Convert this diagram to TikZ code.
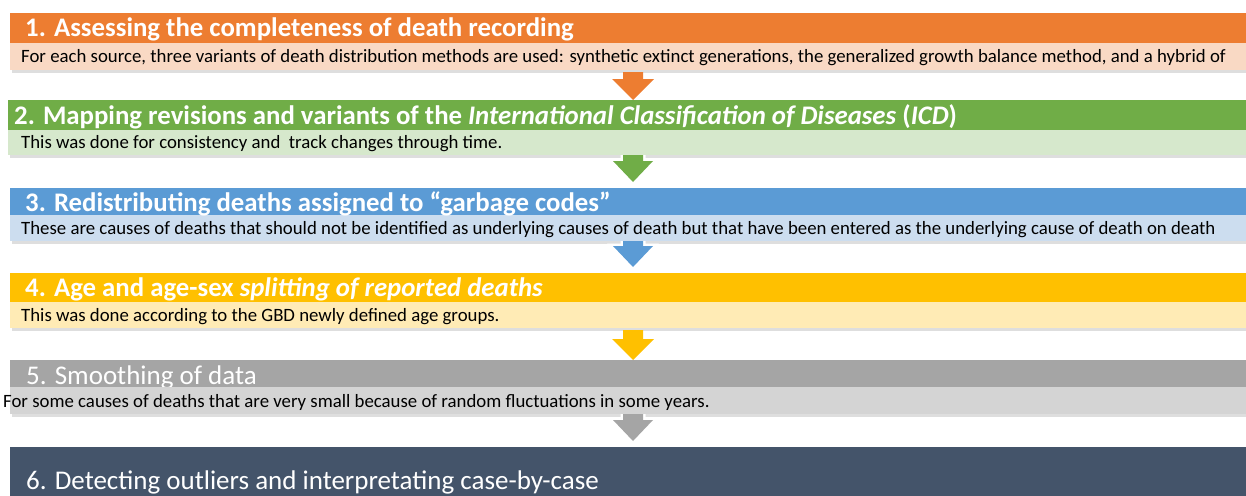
\documentclass[tikz,border=0pt]{standalone}
\usepackage{fontspec}
\setmainfont{Carlito}
\usetikzlibrary{calc}
\definecolor{cOr}{HTML}{ED7D31}\definecolor{cOrL}{HTML}{F9D9C4}
\definecolor{cGr}{HTML}{70AD47}\definecolor{cGrL}{HTML}{D6E8CC}
\definecolor{cBl}{HTML}{5B9BD5}\definecolor{cBlL}{HTML}{CCDDEF}
\definecolor{cYe}{HTML}{FFC000}\definecolor{cYeL}{HTML}{FFEBB5}
\definecolor{cGy}{HTML}{A5A5A5}\definecolor{cGyL}{HTML}{D4D4D4}
\definecolor{cDk}{HTML}{44546A}
\newcommand\solidarr[3]{% top node, bottom node, colour
  \fill[#3] ($(ax |- #1.south)+(-10,2)$) -- ($(ax |- #2.north)+(-10,-21)$) -- ($(ax |- #2.north)+(-21,-21)$)
   -- (ax |- #2.north) -- ($(ax |- #2.north)+(21,-21)$) -- ($(ax |- #2.north)+(10,-21)$) -- ($(ax |- #1.south)+(10,2)$) -- cycle;}
\newcommand\outlinearr[3]{% top node, bottom node, colour
  \path[draw=white, line width=5pt, line join=miter, postaction={fill=#3}] ($(ax |- #1.south)+(-10,0)$) -- ($(ax |- #2.north)+(-10,-27)$) -- ($(ax |- #2.north)+(-20,-27)$)
   -- ($(ax |- #2.north)+(0,-6)$) -- ($(ax |- #2.north)+(20,-27)$) -- ($(ax |- #2.north)+(10,-27)$) -- ($(ax |- #1.south)+(10,0)$) -- cycle;}
\begin{document}
\begin{tikzpicture}[x=1pt,y=-1pt,
  box/.style={anchor=north west, inner sep=0, outer sep=0, minimum width=1240pt},
  htext/.style={anchor=base west, inner sep=0, text=white, font=\fontsize{26.8}{30}\selectfont\bfseries},
  htextr/.style={anchor=base west, inner sep=0, text=white, font=\fontsize{27}{30}\selectfont},
  stext/.style={anchor=base west, inner sep=0, text=black, font=\fontsize{18.8}{21}\selectfont},
  shadow/.style={fill=black, opacity=0.13}]
\useasboundingbox (0,0) rectangle (1246,495);
\coordinate (ax) at (633,0);
% shadows
\fill[shadow] (12,16) rectangle (1250,73);
\fill[shadow] (10,103) rectangle (1250,158);
\fill[shadow] (12,191) rectangle (1250,244);
\fill[shadow] (12,276) rectangle (1250,331);
\fill[shadow] (12,363) rectangle (1250,417);
% row 1
\node[box, fill=cOr, minimum height=30pt] (h1) at (10,13) {};
\node[box, fill=cOrL, minimum height=27pt] (s1) at (10,43) {};
% row 2
\node[box, fill=cGr, minimum height=30pt] (h2) at (8,100) {};
\node[box, fill=cGrL, minimum height=25pt] (s2) at (8,130) {};
% row 3
\node[box, fill=cBl, minimum height=27pt] (h3) at (10,188) {};
\node[box, fill=cBlL, minimum height=26pt] (s3) at (10,215) {};
% row 4
\node[box, fill=cYe, minimum height=29pt] (h4) at (10,273) {};
\node[box, fill=cYeL, minimum height=26pt] (s4) at (10,302) {};
% row 5
\node[box, fill=cGy, minimum height=27pt] (h5) at (10,360) {};
\node[box, fill=cGyL, minimum height=27pt] (s5) at (10,387) {};
% row 6
\node[box, fill=cDk, minimum height=60pt] (h6) at (10,447) {};
% arrows
\solidarr{s1}{h2}{cOr}
\outlinearr{s2}{h3}{cGr}
\outlinearr{s3}{h4}{cBl}
\solidarr{s4}{h5}{cYe}
\outlinearr{s5}{h6}{cGy}
% redraw bands over arrow tops
\fill[cOrL] (10,43) rectangle (1250,70);
\fill[cGrL] (8,130) rectangle (1250,155);
\fill[cBlL] (10,215) rectangle (1250,241);
\fill[cYeL] (10,302) rectangle (1250,328);
% texts
\node[htext] (t1) at (25,37) {1. Assessing the completeness of death recording};
\node[stext] (u1) at (21,62.5) {For each source, three variants of death distribution methods are used: synthetic extinct generations, the generalized growth balance method, and a hybrid of};
\node[htext] (t2) at (14,124) {2. Mapping revisions and variants of the \textit{International Classification of Diseases} (\textit{ICD})};
\node[stext] (u2) at (21,148.5) {This was done for consistency and\ \ track changes through time.};
\node[htext] (t3) at (25,211) {3. Redistributing deaths assigned to “garbage codes”};
\node[stext] (u3) at (21,234.5) {These are causes of deaths that should not be identified as underlying causes of death but that have been entered as the underlying cause of death on death};
\node[htext] (t4) at (25,296) {4. Age and age-sex \textit{splitting of reported deaths}};
\node[stext] (u4) at (21,321.5) {This was done according to the GBD newly defined age groups.};
\node[htextr] (t5) at (26,384) {5. Smoothing of data};
\fill[cGyL] (10,387) rectangle (1250,414);
\node[stext] (u5) at (3,407.5) {For some causes of deaths that are very small because of random fluctuations in some years.};
\node[htextr] (t6) at (26,489) {6. Detecting outliers and interpretating case-by-case};
\end{tikzpicture}
\end{document}
